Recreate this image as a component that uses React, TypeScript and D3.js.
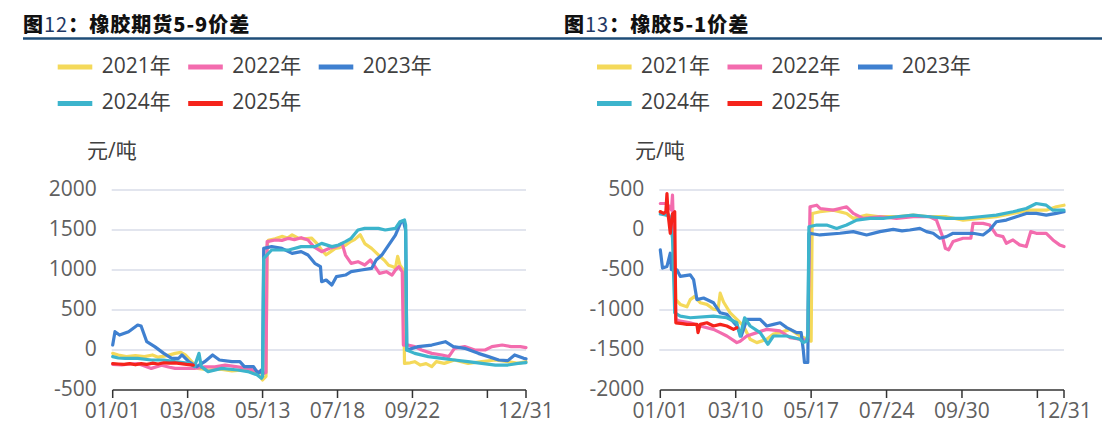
import * as d3 from 'd3'

// x ticks are day-of-year offsets, labels as printed on the axis
const DAYS_59 = [0, 66, 132, 198, 264, 330, 364]
const LABELS_59 = ['01/01', '03/08', '05/13', '07/18', '09/22', '', '12/31']
const DAYS_51 = [0, 68, 136, 204, 272, 340, 364]
const LABELS_51 = ['01/01', '03/10', '05/17', '07/24', '09/30', '', '12/31']
const Y_TICKS_59 = [-500, 0, 500, 1000, 1500, 2000]
const Y_TICKS_51 = [-2000, -1500, -1000, -500, 0, 500]

const YEARS = ['2021年', '2022年', '2023年', '2024年', '2025年']
const COLORS = ['#f4d95a', '#f36cae', '#3f80d0', '#3cb4cc', '#f5231b']

type Pt = [number, number]

// 橡胶期货5-9价差 (元/吨), [day, value]
const s59_2021: Pt[] = [
  [0, -42], [5, -62], [12, -83], [20, -70], [28, -83], [35, -62], [40, -90], [48, -70], [55, -42], [60, -30],
  [64, -62], [70, -150], [75, -230], [85, -250], [95, -240], [105, -260], [115, -250], [122, -270], [128, -300],
  [132, -375], [135, -330], [136, 1300], [137, 1370], [143, 1390], [149, 1420], [154, 1400], [158, 1440],
  [163, 1400], [169, 1390], [175, 1400], [180, 1330], [184, 1250], [188, 1190], [192, 1230], [196, 1270],
  [200, 1280], [205, 1310], [210, 1360], [213, 1380], [218, 1440], [222, 1330], [228, 1270], [234, 1190],
  [240, 1110], [243, 1060], [247, 1040], [249, 1025], [251, 1170], [253, 1060], [256, 1000], [257, -167],
  [262, -160], [266, -146], [271, -188], [276, -170], [281, -208], [285, -146], [292, -167], [301, -125],
  [313, -167], [325, -146], [337, -125], [348, -146], [357, -167], [364, -146],
]
const s59_2022: Pt[] = [
  [0, -180], [8, -185], [15, -175], [22, -170], [28, -200], [34, -230], [43, -190], [50, -215], [55, -230],
  [64, -230], [72, -230], [81, -210], [90, -210], [99, -190], [110, -210], [119, -230], [128, -270],
  [133, -290], [135, -280], [136, 1354], [143, 1375], [149, 1370], [155, 1396], [160, 1380], [166, 1404],
  [172, 1375], [177, 1292], [184, 1229], [191, 1271], [197, 1292], [202, 1333], [205, 1187], [210, 1083],
  [216, 1104], [222, 1062], [227, 1125], [231, 1042], [235, 958], [241, 979], [246, 937], [249, 1000],
  [252, 1042], [254, 1000], [255, 980], [256, 62], [260, 62], [266, 42], [272, 0], [281, -42], [290, -62],
  [296, -83], [301, 21], [310, 42], [319, 0], [328, 0], [334, 42], [343, 62], [351, 42], [359, 42], [364, 30],
]
const s59_2023: Pt[] = [
  [0, 62], [2, 229], [6, 187], [14, 229], [22, 312], [25, 300], [30, 104], [37, 42], [45, -42], [52, -104],
  [58, -104], [61, -62], [67, -146], [74, -208], [81, -146], [88, -62], [94, -125], [105, -146], [112, -146],
  [116, -208], [124, -208], [128, -292], [131, -250], [132, -312], [133, 1271], [140, 1292], [149, 1271],
  [158, 1208], [166, 1229], [172, 1187], [178, 1083], [183, 1042], [184, 854], [188, 875], [193, 812],
  [197, 917], [205, 937], [210, 979], [219, 1000], [228, 1020], [232, 1125], [237, 1187], [243, 1312],
  [249, 1437], [254, 1604], [256, 1610], [258, 1500], [259, 0], [269, 42], [281, 62], [293, 104], [300, 42],
  [310, 21], [322, -42], [331, -83], [340, -125], [348, -133], [354, -62], [362, -104], [364, -110],
]
const s59_2024: Pt[] = [
  [0, -83], [5, -100], [11, -104], [22, -104], [34, -125], [45, -125], [55, -146], [67, -167], [72, -208],
  [76, -42], [78, -208], [84, -270], [96, -230], [110, -250], [119, -270], [127, -310], [131, -354],
  [132, -330], [133, 1146], [140, 1250], [155, 1250], [166, 1292], [178, 1292], [184, 1333], [193, 1292],
  [199, 1312], [205, 1354], [210, 1396], [216, 1500], [222, 1520], [234, 1520], [240, 1500], [249, 1520],
  [253, 1604], [257, 1625], [258, 1560], [259, 0], [266, -42], [278, -83], [290, -104], [301, -125],
  [313, -146], [325, -167], [337, -188], [348, -188], [357, -167], [364, -158],
]
const s59_2025: Pt[] = [
  [0, -170], [5, -175], [10, -180], [15, -170], [20, -185], [25, -170], [30, -180], [35, -165], [40, -175],
  [45, -160], [50, -165], [55, -160], [60, -170], [65, -180], [71, -190],
]

// 橡胶5-1价差 (元/吨), [day, value]
const s51_2021: Pt[] = [
  [0, 228], [5, 190], [9, 150], [12, 100], [14, -870], [18, -930], [24, -960], [27, -870], [31, -830],
  [36, -910], [42, -930], [48, -990], [52, -1000], [54, -790], [57, -900], [63, -1035], [69, -1118],
  [75, -1200], [81, -1366], [87, -1408], [96, -1366], [102, -1300], [108, -1283], [117, -1242], [126, -1325],
  [132, -1366], [136, -1390], [137, 207], [144, 228], [156, 248], [168, 207], [174, 145], [186, 186],
  [198, 166], [213, 166], [228, 186], [243, 166], [258, 166], [273, 124], [288, 145], [303, 166], [318, 207],
  [333, 248], [348, 248], [357, 290], [364, 310],
]
const s51_2022: Pt[] = [
  [0, 331], [6, 331], [10, 248], [11, 435], [12, -60], [14, -1118], [18, -1140], [27, -1160], [36, -1200],
  [48, -1242], [54, -1283], [60, -1325], [69, -1408], [72, -1390], [78, -1325], [87, -1283], [96, -1242],
  [108, -1262], [117, -1345], [126, -1366], [133, -1380], [135, 290], [141, 310], [144, 269], [156, 248],
  [168, 290], [174, 207], [183, 145], [198, 166], [213, 145], [228, 166], [243, 166], [249, 124], [254, -62],
  [257, -228], [260, -248], [264, -145], [273, -103], [280, -103], [282, 83], [291, 83], [297, 62], [303, -62],
  [309, -83], [312, -166], [318, -124], [324, -186], [330, -207], [334, -20], [339, -41], [348, -41],
  [354, -124], [360, -186], [364, -207],
]
const s51_2023: Pt[] = [
  [0, -248], [2, -476], [6, -455], [9, -290], [10, -497], [15, -497], [18, -580], [27, -560], [30, -620],
  [33, -870], [39, -850], [48, -910], [54, -1035], [60, -1055], [69, -1200], [73, -1325], [78, -1118],
  [90, -1118], [96, -1200], [102, -1180], [108, -1160], [114, -1220], [123, -1283], [127, -1283], [129, -1510],
  [130, -1656], [133, -1656], [134, -41], [144, -62], [162, -41], [174, -20], [186, -62], [198, -20],
  [210, 8], [218, -10], [225, 0], [234, 20], [240, -20], [246, -41], [252, -103], [258, -83], [264, -41],
  [273, -41], [282, -41], [291, -62], [297, 0], [303, 103], [312, 124], [321, 166], [330, 207], [339, 207],
  [348, 186], [357, 207], [364, 228],
]
const s51_2024: Pt[] = [
  [0, 200], [8, 180], [11, -100], [13, -1035], [18, -1076], [27, -1097], [48, -1076], [60, -1097],
  [69, -1160], [72, -1325], [76, -1097], [81, -1200], [90, -1283], [97, -1428], [102, -1325], [114, -1325],
  [126, -1366], [129, -1408], [132, -1387], [133, -1300], [134, 41], [141, 62], [150, 62], [159, 20],
  [168, 62], [177, 124], [189, 145], [201, 145], [213, 166], [228, 186], [243, 166], [258, 145], [273, 145],
  [288, 166], [303, 186], [318, 228], [330, 269], [339, 331], [348, 310], [354, 248], [364, 248],
]
const s51_2025: Pt[] = [
  [0, 228], [3, 207], [5, 228], [6, 455], [7, 200], [9, -41], [11, 200], [13, 228], [14, -1160], [20, -1170],
  [24, -1180], [30, -1180], [33, -1180], [34, -1283], [36, -1180], [42, -1160], [48, -1200], [54, -1180],
  [60, -1200], [66, -1242], [69, -1222],
]

const SERIES_59 = [s59_2021, s59_2022, s59_2023, s59_2024, s59_2025]
const SERIES_51 = [s51_2021, s51_2022, s51_2023, s51_2024, s51_2025]

const FONT = "'Open Sans','Noto Sans CJK SC',sans-serif"
const TEXT = '#404040'
const AXIS_TEXT = '#606060'

interface PanelProps {
  titleNo: string
  titleRest: string
  titleX: number
  legendX: number
  unitX: number
  plotX: [number, number]
  series: Pt[][]
  yTicks: number[]
  xDays: number[]
  xLabels: string[]
}

function Panel(p: PanelProps) {
  const x = d3.scaleLinear().domain([0, 364]).range(p.plotX)
  const y = d3.scaleLinear().domain([p.yTicks[0], p.yTicks[p.yTicks.length - 1]]).range([390, 190])
  const line = d3.line<Pt>().x(d => x(d[0])).y(d => y(d[1]))
  const [left, right] = p.plotX

  return (
    <g>
      <text
        x={p.titleX}
        y={32}
        fontFamily="'Noto Sans CJK SC',sans-serif"
        fontSize={20}
        fontWeight={900}
        letterSpacing={1}
        fill="#111"
      >
        图<tspan fill="#1f3864" fontWeight={400}>{p.titleNo}</tspan>{p.titleRest}
      </text>

      {YEARS.map((name, i) => {
        const lx = p.legendX + (i % 3) * 130.5
        const ly = i < 3 ? 67 : 103.5
        return (
          <g key={name}>
            <line x1={lx} x2={lx + 34.6} y1={ly} y2={ly} stroke={COLORS[i]} strokeWidth={5} />
            <text x={lx + 44} y={ly} dominantBaseline="middle" fontFamily={FONT} fontSize={21} fill={TEXT}>
              {name}
            </text>
          </g>
        )
      })}

      <text x={p.unitX} y={152} dominantBaseline="middle" fontFamily={FONT} fontSize={21} fill={TEXT}>
        元/吨
      </text>

      {p.yTicks.map(t => (
        <g key={t}>
          {t !== p.yTicks[0] && (
            <line x1={left - 1} x2={right} y1={y(t)} y2={y(t)} stroke="#d9dde8" strokeWidth={1.5} />
          )}
          <text x={left - 16} y={y(t)} textAnchor="end" dominantBaseline="middle" fontFamily={FONT} fontSize={21} fill={AXIS_TEXT}>
            {t}
          </text>
        </g>
      ))}

      <line x1={left} x2={right} y1={390} y2={390} stroke="#333" strokeWidth={1.5} />
      {p.xDays.map((d, i) => (
        <g key={d}>
          <line x1={x(d)} x2={x(d)} y1={390} y2={398} stroke="#333" strokeWidth={1.5} />
          {p.xLabels[i] && (
            <text x={x(d)} y={412} textAnchor="middle" dominantBaseline="middle" fontFamily={FONT} fontSize={21} fill={AXIS_TEXT}>
              {p.xLabels[i]}
            </text>
          )}
        </g>
      ))}

      {p.series.map((s, i) => (
        <path key={i} d={line(s) ?? ''} fill="none" stroke={COLORS[i]} strokeWidth={3.2} strokeLinejoin="round" strokeLinecap="round" />
      ))}
    </g>
  )
}

export default function App() {
  return (
    <svg
      width={1106}
      height={442}
      viewBox="0 0 1106 442"
      style={{ position: 'absolute', left: 0, top: 0, background: '#fff' }}
    >
      <rect width={1106} height={442} fill="#fff" />
      <line x1={23} x2={1102} y1={38.5} y2={38.5} stroke="#1f4e79" strokeWidth={2.5} />
      <Panel
        titleNo="12"
        titleRest="：橡胶期货5-9价差"
        titleX={23}
        legendX={57.7}
        unitX={87}
        plotX={[112.7, 526]}
        series={SERIES_59}
        yTicks={Y_TICKS_59}
        xDays={DAYS_59}
        xLabels={LABELS_59}
      />
      <Panel
        titleNo="13"
        titleRest="：橡胶5-1价差"
        titleX={564}
        legendX={597}
        unitX={635}
        plotX={[660.3, 1064]}
        series={SERIES_51}
        yTicks={Y_TICKS_51}
        xDays={DAYS_51}
        xLabels={LABELS_51}
      />
    </svg>
  )
}
